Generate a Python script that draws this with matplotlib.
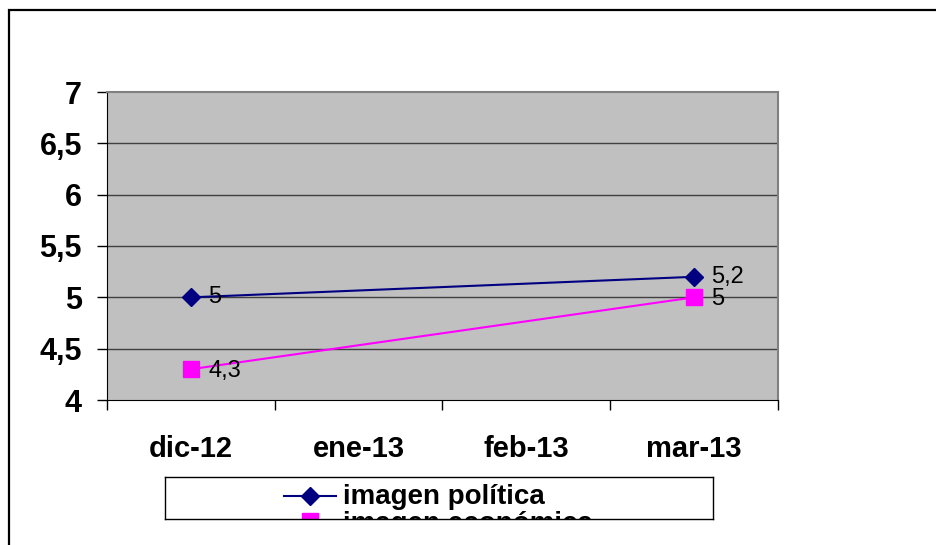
import matplotlib.pyplot as plt
from matplotlib.patches import Rectangle

plt.rcParams['font.family'] = ['Liberation Sans', 'DejaVu Sans']

months = ['dic-12', 'ene-13', 'feb-13', 'mar-13']
pos_known = [0, 3]          # only the first and last month have values
politica = [5.0, 5.2]
economica = [4.3, 5.0]
politica_lbl = ['5', '5,2']
economica_lbl = ['4,3', '5']
yticks = [4, 4.5, 5, 5.5, 6, 6.5, 7]
ytick_lbl = ['4', '4,5', '5', '5,5', '6', '6,5', '7']

W, H = 937, 545
fig = plt.figure(figsize=(W / 100, H / 100), dpi=100)

# outer chart border (runs off the right and bottom edges)
fig.patches.append(Rectangle((9 / W, -0.05), 1.0, 1 - 10 / H + 0.05,
                             transform=fig.transFigure, fill=False,
                             edgecolor='black', linewidth=1.6))

ax = fig.add_axes([107 / W, 1 - 400 / H, 671 / W, 308 / H])
ax.set_facecolor('#C0C0C0')
ax.set_xlim(-0.5, 3.5)
ax.set_ylim(4, 7)

for y in yticks[1:-1]:
    ax.axhline(y, color='#404040', linewidth=1, zorder=1)

ax.plot(pos_known, politica, color='#000080', marker='D', markersize=9,
        linewidth=1.5, zorder=3)
ax.plot(pos_known, economica, color='#FF00FF', marker='s', markersize=11.5,
        linewidth=1.5, zorder=3)

for x, v, t in zip(pos_known, politica, politica_lbl):
    ax.annotate(t, (x, v), xytext=(12.5, 0), textcoords='offset points',
                va='center', ha='left', fontsize=17, zorder=4)
for x, v, t in zip(pos_known, economica, economica_lbl):
    ax.annotate(t, (x, v), xytext=(12.5, -1), textcoords='offset points',
                va='center', ha='left', fontsize=17, zorder=4)

ax.set_yticks(yticks)
ax.set_yticklabels(ytick_lbl, fontsize=22, fontweight='bold')
ax.set_xticks(range(len(months)))
ax.set_xticklabels(months, fontsize=21, fontweight='bold')
ax.set_xticks([-0.5, 0.5, 1.5, 2.5, 3.5], minor=True)
ax.tick_params(axis='x', which='major', length=0, pad=25)
ax.tick_params(axis='x', which='minor', length=7, width=1, color='black')
ax.tick_params(axis='y', length=7, width=1, color='black', pad=11)

for s in ['top', 'right']:
    ax.spines[s].set_color('#808080')
    ax.spines[s].set_linewidth(1.5)
ax.spines['left'].set_color('black')
ax.spines['bottom'].set_color('black')

# legend box, clipped at its bottom edge like in the original
lg = fig.add_axes([165 / W, 1 - 519 / H, 548 / W, 42 / H])
lg.set_xlim(165, 713)
lg.set_ylim(519, 477)
lg.set_xticks([])
lg.set_yticks([])
for s in lg.spines.values():
    s.set_linewidth(1)
    s.set_color('black')
lg.plot([284, 336], [496, 496], color='#000080', linewidth=1.5)
lg.plot([310], [496], color='#000080', marker='D', markersize=9)
lg.text(343, 497, 'imagen política', fontsize=20, fontweight='bold',
        va='center', ha='left', clip_on=True)
lg.plot([310], [521], color='#FF00FF', marker='s', markersize=11.5,
        clip_on=True)
lg.text(343, 524, 'imagen económica', fontsize=20, fontweight='bold',
        va='center', ha='left', clip_on=True)

fig.savefig('out.png', dpi=100)
